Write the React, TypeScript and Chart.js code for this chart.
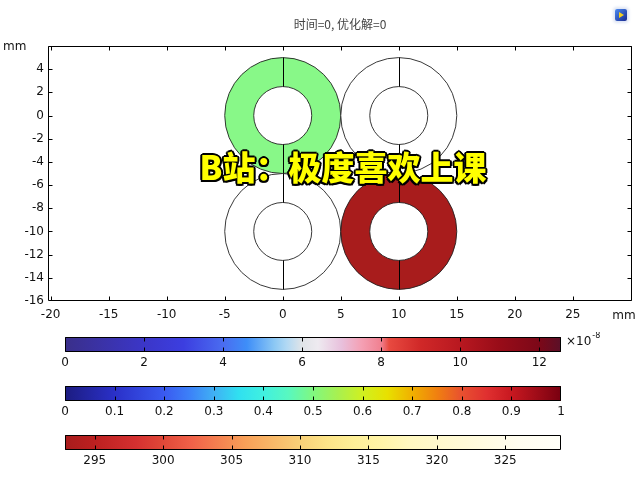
import React, { useEffect, useRef } from 'react';
import { Chart, registerables } from 'chart.js';

Chart.register(...registerables);

// ---------- text ----------
const TITLE = '时间=0, 优化解=0';
const WATERMARK = 'B站：极度喜欢上课';
const UNIT = 'mm';

// ---------- main plot axes ----------
const xMin = -20.23;
const xMax = 30.1;
const xStep = 5;
const yMin = -16;
const yMax = 6;
const yStep = 2;

// ---------- rings (centre, radii in mm, fill colour) ----------
const ringCenterX = [0, 10, 0, 10];
const ringCenterY = [0, 0, -10, -10];
const ringOuterR = [5, 5, 5, 5];
const ringInnerR = [2.5, 2.5, 2.5, 2.5];
const ringFill = ['#88f888', '#ffffff', '#ffffff', '#a81c1c'];

// ---------- colour bar 1 (x10^-8) ----------
const cb1Min = 0;
const cb1Max = 12.55;
const cb1Step = 2;
const cb1Exponent = '-8';
const cb1StopValues = [0, 2, 3, 4, 4.6, 5.3, 5.6, 6, 6.4, 7, 7.5, 8, 8.2, 9, 10, 11, 12, 12.55];
const cb1StopColors = [
  '#3a2f8a', '#3b36c8', '#3c3ee0', '#4a6cf0', '#3e8ef8', '#8cc8f4', '#b0d8f4', '#e0e4e8',
  '#eeeaf0', '#e8c0dc', '#f4a0b4', '#f08090', '#e84a40', '#d02828', '#b81820', '#980c18',
  '#7c0818', '#5a1028',
];

// ---------- colour bar 2 (0..1) ----------
const cb2Min = 0;
const cb2Max = 1;
const cb2Step = 0.1;
const cb2StopValues = [0, 0.1, 0.2, 0.25, 0.3, 0.35, 0.4, 0.45, 0.5, 0.55, 0.6, 0.65, 0.7, 0.75, 0.8, 0.85, 0.9, 1];
const cb2StopColors = [
  '#1c1c80', '#2a30c8', '#3a5af0', '#3c80f8', '#40b0f4', '#30e0f0', '#40f0e0', '#58f8c0',
  '#80f880', '#a8f050', '#d0f020', '#e8e000', '#f0b000', '#f08010', '#e85030', '#e03030',
  '#c81820', '#780010',
];

// ---------- colour bar 3 (temperature) ----------
const cb3Min = 292.83;
const cb3Max = 329.07;
const cb3Step = 5;
const cb3StopValues = [292.83, 295, 298, 300, 302, 304, 306, 308, 310, 312, 314, 316, 318, 322, 326, 329.07];
const cb3StopColors = [
  '#a81c1c', '#bc2020', '#d43030', '#e04838', '#f06048', '#f48050', '#f8a058', '#f8b868',
  '#f8d078', '#fce488', '#fef098', '#fff4a8', '#fff8c0', '#fffad8', '#fffdf0', '#fffff8',
];

const FONT = 'DejaVu Sans';
const FONT_SIZE = 12;
const TICK_COLOR = '#111';

const fmt = (v: any) => String(Math.round(Number(v) * 1000) / 1000);

function MainPlot() {
  const ref = useRef<HTMLCanvasElement | null>(null);
  useEffect(() => {
    if (!ref.current) return;
    const ringPlugin = {
      id: 'rings',
      beforeDatasetsDraw(chart: any) {
        const { ctx, chartArea: a, scales } = chart;
        const xs = scales.x;
        const ys = scales.y;
        ctx.save();
        ctx.beginPath();
        ctx.rect(a.left, a.top, a.right - a.left, a.bottom - a.top);
        ctx.clip();
        ringCenterX.forEach((cxv, i) => {
          const cyv = ringCenterY[i];
          const ro = ringOuterR[i];
          const ri = ringInnerR[i];
          const cx = xs.getPixelForValue(cxv);
          const cy = ys.getPixelForValue(cyv);
          const rox = xs.getPixelForValue(cxv + ro) - cx;
          const roy = cy - ys.getPixelForValue(cyv + ro);
          const rix = xs.getPixelForValue(cxv + ri) - cx;
          const riy = cy - ys.getPixelForValue(cyv + ri);
          ctx.beginPath();
          ctx.ellipse(cx, cy, rox, roy, 0, 0, Math.PI * 2);
          ctx.moveTo(cx + rix, cy);
          ctx.ellipse(cx, cy, rix, riy, 0, 0, Math.PI * 2, true);
          ctx.fillStyle = ringFill[i];
          ctx.fill('evenodd');
          ctx.strokeStyle = '#222';
          ctx.lineWidth = 0.9;
          ctx.beginPath();
          ctx.ellipse(cx, cy, rox, roy, 0, 0, Math.PI * 2);
          ctx.stroke();
          ctx.beginPath();
          ctx.ellipse(cx, cy, rix, riy, 0, 0, Math.PI * 2);
          ctx.stroke();
          const lx = Math.round(cx) + 0.5;
          ctx.lineWidth = 1;
          ctx.strokeStyle = '#000';
          ctx.beginPath();
          ctx.moveTo(lx, ys.getPixelForValue(cyv + ri));
          ctx.lineTo(lx, ys.getPixelForValue(cyv + ro));
          ctx.moveTo(lx, ys.getPixelForValue(cyv - ri));
          ctx.lineTo(lx, ys.getPixelForValue(cyv - ro));
          ctx.stroke();
        });
        ctx.restore();
      },
      afterDraw(chart: any) {
        const { ctx, chartArea: a, scales } = chart;
        const xs = scales.x;
        const ys = scales.y;
        ctx.save();
        ctx.strokeStyle = '#000';
        ctx.lineWidth = 1;
        const L = Math.round(a.left) + 0.5;
        const R = Math.round(a.right) - 0.5;
        const T = Math.round(a.top) + 0.5;
        const B = Math.round(a.bottom) - 0.5;
        ctx.beginPath();
        ctx.rect(L, T, R - L, B - T);
        ctx.stroke();
        const tl = 4;
        ctx.beginPath();
        xs.ticks.forEach((t: any) => {
          const px = Math.round(xs.getPixelForValue(t.value)) + 0.5;
          if (px < L || px > R) return;
          ctx.moveTo(px, T);
          ctx.lineTo(px, T + tl);
          ctx.moveTo(px, B);
          ctx.lineTo(px, B - tl);
        });
        ys.ticks.forEach((t: any) => {
          const py = Math.round(ys.getPixelForValue(t.value)) + 0.5;
          if (py < T || py > B) return;
          ctx.moveTo(L, py);
          ctx.lineTo(L + tl, py);
          ctx.moveTo(R, py);
          ctx.lineTo(R - tl, py);
        });
        ctx.stroke();
        // unit labels
        ctx.fillStyle = TICK_COLOR;
        ctx.font = `${FONT_SIZE}px "${FONT}"`;
        ctx.textAlign = 'left';
        ctx.textBaseline = 'middle';
        ctx.fillText(UNIT, 3, a.top + 1);
        ctx.textAlign = 'center';
        ctx.fillText(UNIT, 624, a.bottom + 15);
        // title
        ctx.fillStyle = '#444';
        ctx.font = '12px "Noto Sans CJK SC"';
        ctx.textAlign = 'center';
        ctx.fillText(TITLE, (a.left + a.right) / 2, 24);
        ctx.restore();
      },
    };

    const chart = new Chart(ref.current, {
      type: 'scatter',
      data: {
        datasets: [
          {
            label: 'centres',
            data: ringCenterX.map((x, i) => ({ x, y: ringCenterY[i] })),
            pointRadius: 0,
            showLine: false,
          },
        ],
      },
      options: {
        animation: false,
        responsive: false,
        events: [],
        layout: { padding: { top: 46, right: 8, left: 0, bottom: 0 } },
        plugins: { legend: { display: false }, tooltip: { enabled: false }, title: { display: false } },
        scales: {
          x: {
            type: 'linear',
            min: xMin,
            max: xMax,
            grid: { display: false, drawTicks: false },
            border: { display: false },
            ticks: {
              stepSize: xStep,
              includeBounds: false,
              maxRotation: 0,
              autoSkip: false,
              padding: 7,
              color: TICK_COLOR,
              font: { family: FONT, size: FONT_SIZE },
              callback: (v: any) => (Number(v) >= 29.999 ? '' : fmt(v)),
            },
            afterFit: (s: any) => {
              s.height = 29;
            },
          },
          y: {
            type: 'linear',
            min: yMin,
            max: yMax,
            grid: { display: false, drawTicks: false },
            border: { display: false },
            ticks: {
              stepSize: yStep,
              includeBounds: false,
              autoSkip: false,
              padding: 4,
              color: TICK_COLOR,
              font: { family: FONT, size: FONT_SIZE },
              callback: (v: any) => (Number(v) >= yMax - 1e-6 ? '' : fmt(v)),
            },
            afterFit: (s: any) => {
              s.width = 48;
            },
          },
        },
      },
      plugins: [ringPlugin],
    } as any);
    return () => chart.destroy();
  }, []);
  return (
    <canvas
      ref={ref}
      width={640}
      height={330}
      style={{ position: 'absolute', left: 0, top: 0, width: 640, height: 330 }}
    />
  );
}

function ColorBar(props: {
  min: number;
  max: number;
  step: number;
  stopValues: number[];
  stopColors: string[];
  top: number;
  exponent?: string;
}) {
  const { min, max, step, stopValues, stopColors, top, exponent } = props;
  const ref = useRef<HTMLCanvasElement | null>(null);
  useEffect(() => {
    if (!ref.current) return;
    const framePlugin = {
      id: 'cbframe',
      afterDatasetsDraw(chart: any) {
        const { ctx, chartArea: a, scales } = chart;
        const xs = scales.x;
        ctx.save();
        ctx.strokeStyle = '#000';
        ctx.lineWidth = 1;
        const L = Math.round(a.left) + 0.5;
        const R = Math.round(a.right) - 0.5;
        const T = Math.round(a.top) + 0.5;
        const B = Math.round(a.bottom) - 0.5;
        ctx.beginPath();
        ctx.rect(L, T, R - L, B - T);
        xs.ticks.forEach((t: any) => {
          const px = Math.round(xs.getPixelForValue(t.value)) + 0.5;
          if (px <= L || px >= R) return;
          ctx.moveTo(px, T);
          ctx.lineTo(px, T + 4);
          ctx.moveTo(px, B);
          ctx.lineTo(px, B - 4);
        });
        ctx.stroke();
        if (exponent) {
          ctx.fillStyle = TICK_COLOR;
          ctx.textAlign = 'left';
          ctx.textBaseline = 'middle';
          ctx.font = `${FONT_SIZE}px "${FONT}"`;
          const base = '×10';
          ctx.fillText(base, a.right + 5, a.top + 5);
          const w = ctx.measureText(base).width;
          ctx.font = `8px "${FONT}"`;
          ctx.fillText(exponent, a.right + 5 + w + 1, a.top - 1);
        }
        ctx.restore();
      },
    };
    const chart = new Chart(ref.current, {
      type: 'bar',
      data: {
        labels: [''],
        datasets: [
          {
            data: [[min, max]],
            barPercentage: 1,
            categoryPercentage: 1,
            borderWidth: 0,
            backgroundColor: (c: any) => {
              const ch = c.chart;
              const xs = ch.scales && ch.scales.x;
              if (!ch.chartArea || !xs) return 'transparent';
              const x0 = xs.getPixelForValue(min);
              const x1 = xs.getPixelForValue(max);
              const g = ch.ctx.createLinearGradient(x0, 0, x1, 0);
              stopValues.forEach((v, i) => g.addColorStop((v - min) / (max - min), stopColors[i]));
              return g;
            },
          },
        ],
      },
      options: {
        animation: false,
        responsive: false,
        events: [],
        indexAxis: 'y',
        layout: { padding: { top: 5, left: 65, right: 79, bottom: 0 } },
        plugins: { legend: { display: false }, tooltip: { enabled: false } },
        scales: {
          y: { type: 'category', display: false },
          x: {
            type: 'linear',
            min,
            max,
            grid: { display: false, drawTicks: false },
            border: { display: false },
            ticks: {
              stepSize: step,
              includeBounds: false,
              maxRotation: 0,
              autoSkip: false,
              padding: 4,
              color: TICK_COLOR,
              font: { family: FONT, size: FONT_SIZE },
              callback: (v: any) => fmt(v),
            },
            afterFit: (s: any) => {
              s.height = 20;
            },
          },
        },
      },
      plugins: [framePlugin],
    } as any);
    return () => chart.destroy();
  }, []);
  return (
    <canvas
      ref={ref}
      width={640}
      height={40}
      style={{ position: 'absolute', left: 0, top: top - 5, width: 640, height: 40 }}
    />
  );
}

export default function App() {
  return (
    <div
      style={{
        position: 'fixed',
        left: 0,
        top: 0,
        width: 640,
        height: 480,
        background: '#ffffff',
        overflow: 'hidden',
      }}
    >
      <MainPlot />
      <ColorBar
        min={cb1Min}
        max={cb1Max}
        step={cb1Step}
        stopValues={cb1StopValues}
        stopColors={cb1StopColors}
        top={337}
        exponent={cb1Exponent}
      />
      <ColorBar
        min={cb2Min}
        max={cb2Max}
        step={cb2Step}
        stopValues={cb2StopValues}
        stopColors={cb2StopColors}
        top={386}
      />
      <ColorBar
        min={cb3Min}
        max={cb3Max}
        step={cb3Step}
        stopValues={cb3StopValues}
        stopColors={cb3StopColors}
        top={435}
      />
      <div
        style={{
          position: 'absolute',
          left: 615,
          top: 9,
          width: 12,
          height: 12,
          borderRadius: 2,
          background: 'linear-gradient(135deg, #4a8af0, #1a2a90)',
          boxShadow: '0 0 3px 2px #dde4f4',
        }}
      >
        <div
          style={{
            position: 'absolute',
            left: 4,
            top: 3,
            width: 0,
            height: 0,
            borderTop: '3px solid transparent',
            borderBottom: '3px solid transparent',
            borderLeft: '5px solid #f4d020',
          }}
        />
      </div>
      <div
        style={{
          position: 'absolute',
          left: 343,
          top: 166,
          transform: 'translate(-50%, -50%)',
          whiteSpace: 'nowrap',
          fontFamily: '"Noto Sans CJK SC", sans-serif',
          fontWeight: 900,
          fontSize: 33,
          lineHeight: '36px',
          color: '#ffff00',
          textShadow:
            '2px 0 0 #000, -2px 0 0 #000, 0 2px 0 #000, 0 -2px 0 #000, 1.5px 1.5px 0 #000, -1.5px 1.5px 0 #000, 1.5px -1.5px 0 #000, -1.5px -1.5px 0 #000',
        }}
      >
        {WATERMARK}
      </div>
    </div>
  );
}
